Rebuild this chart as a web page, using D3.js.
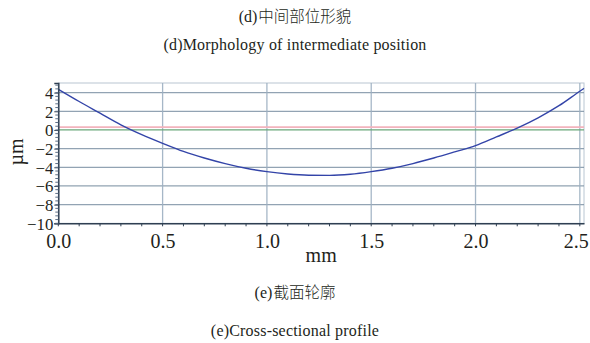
<!DOCTYPE html>
<html>
<head>
<meta charset="utf-8">
<script src="https://cdn.jsdelivr.net/npm/d3@7"></script>
<style>
  html, body { margin: 0; padding: 0; background: #fff; }
  svg { display: block; }
</style>
</head>
<body>
<svg id="chart" width="590" height="343"></svg>
<script>
// Cross-sectional profile: height (µm) along the measurement line (mm)
const positionsMm = [0.0, 0.1, 0.2, 0.3, 0.4, 0.5, 0.6, 0.7, 0.8, 0.9, 1.0, 1.1, 1.2, 1.3,
  1.4, 1.5, 1.6, 1.7, 1.8, 1.9, 2.0, 2.1, 2.2, 2.3, 2.4, 2.5, 2.52];
const heightsUm = [4.36, 3.05, 1.8, 0.55, -0.5, -1.43, -2.3, -3.0, -3.6, -4.1, -4.47, -4.72,
  -4.85, -4.87, -4.75, -4.47, -4.1, -3.6, -3.0, -2.35, -1.68, -0.75, 0.2, 1.3, 2.6, 4.15, 4.45];

const xTicks = [0.0, 0.5, 1.0, 1.5, 2.0, 2.5];
const yTicks = [4, 2, 0, -2, -4, -6, -8, -10];
const zeroLine = 0;        // reference line (green)
const upperLine = 0.3;     // mean line (pink)

const titleTop = "(d)中间部位形貌";
const titleTopEn = "(d)Morphology of intermediate position";
const captionCn = "(e)截面轮廓";
const captionEn = "(e)Cross-sectional profile";

const svg = d3.select("#chart");
const plot = { left: 58.3, right: 584, top: 83, bottom: 223.3 };

const x = d3.scaleLinear().domain([0, 2.52]).range([plot.left, plot.right]);
const y = d3.scaleLinear().domain([-10, 5.03]).range([plot.bottom, plot.top]);

const serif = "'Liberation Serif', 'Times New Roman', serif";
const cjk = "'Noto Sans CJK SC', sans-serif";
const ink = "#231f20";

// Titles above and captions below
function mixedText(yPos, parts, size) {
  const t = svg.append("text")
    .attr("x", 295).attr("y", yPos)
    .attr("text-anchor", "middle")
    .attr("fill", ink);
  t.append("tspan").attr("font-family", serif).attr("font-size", size).text(parts[0]);
  t.append("tspan").attr("font-family", cjk).attr("font-size", size - 0.5)
    .attr("font-weight", 300).attr("dx", 1).text(parts[1]);
}
function enText(yPos, str) {
  svg.append("text").attr("x", 295).attr("y", yPos).attr("text-anchor", "middle")
    .attr("font-family", serif).attr("font-size", 16).attr("letter-spacing", 0.2)
    .attr("fill", ink).text(str);
}
mixedText(22, [titleTop.slice(0, 3), titleTop.slice(3)], 16);
enText(50, titleTopEn);
mixedText(298, [captionCn.slice(0, 3), captionCn.slice(3)], 16);
enText(336, captionEn);

// Plot frame (top/right light)
svg.append("rect")
  .attr("x", plot.left).attr("y", plot.top)
  .attr("width", plot.right - plot.left).attr("height", plot.bottom - plot.top)
  .attr("fill", "none").attr("stroke", "#b9c6d2").attr("stroke-width", 1);

// Grid lines
const g = svg.append("g");
g.selectAll("line.hg").data(yTicks.filter(d => d !== 0 && d !== -10)).join("line")
  .attr("x1", plot.left).attr("x2", plot.right)
  .attr("y1", d => y(d)).attr("y2", d => y(d))
  .attr("stroke", "#7f93a6").attr("stroke-width", 1.3).attr("opacity", 0.85);
g.selectAll("line.vg").data(xTicks.filter(d => d > 0)).join("line")
  .attr("x1", d => x(d)).attr("x2", d => x(d))
  .attr("y1", plot.top).attr("y2", plot.bottom)
  .attr("stroke", "#9db0c2").attr("stroke-width", 1.3).attr("opacity", 0.9);

// Reference lines
g.append("line").attr("x1", plot.left).attr("x2", plot.right)
  .attr("y1", y(upperLine)).attr("y2", y(upperLine))
  .attr("stroke", "#f2b3bd").attr("stroke-width", 1.8);
g.append("line").attr("x1", plot.left).attr("x2", plot.right)
  .attr("y1", y(zeroLine)).attr("y2", y(zeroLine))
  .attr("stroke", "#6aa77a").attr("stroke-width", 1.2);

// Profile curve
const line = d3.line().x((d, i) => x(positionsMm[i])).y(d => y(d)).curve(d3.curveMonotoneX);
svg.append("path").datum(heightsUm)
  .attr("d", line)
  .attr("fill", "none").attr("stroke", "#3344a8").attr("stroke-width", 1.4);

// Axes
const xAxis = d3.axisBottom(x).tickValues(xTicks).tickFormat(d3.format(".1f")).tickSize(0).tickPadding(11);
const xa = svg.append("g").attr("transform", `translate(0,${plot.bottom})`).call(xAxis);
xa.select(".domain").attr("stroke", "#2f3f52").attr("stroke-width", 1.5);
xa.selectAll("text").attr("font-family", serif).attr("font-size", 20).attr("fill", ink);
// keep the last label inside the page edge
xa.selectAll(".tick").filter(d => d === 2.5).select("text").attr("dx", -4);

const xMinor = d3.range(0, 2.52, 0.1);
svg.append("g").selectAll("line").data(xMinor).join("line")
  .attr("x1", d => x(d)).attr("x2", d => x(d))
  .attr("y1", plot.bottom).attr("y2", plot.bottom + 3)
  .attr("stroke", "#2f3f52").attr("stroke-width", 1);

const yAxis = d3.axisLeft(y).tickValues(yTicks).tickFormat(d => d < 0 ? "\u2212" + Math.abs(d) : d)
  .tickSize(4).tickPadding(1);
const ya = svg.append("g").attr("transform", `translate(${plot.left},0)`).call(yAxis);
ya.select(".domain").attr("stroke", "#2f3f52").attr("stroke-width", 1.5);
ya.selectAll(".tick line").attr("stroke", "#2f3f52");
ya.selectAll("text").attr("font-family", serif).attr("font-size", 16.8).attr("fill", ink)
  .attr("dy", "0.34em");

const yMinor = d3.range(-10, 5.01, 0.4);
svg.append("g").selectAll("line").data(yMinor).join("line")
  .attr("x1", plot.left - 3).attr("x2", plot.left)
  .attr("y1", d => y(d)).attr("y2", d => y(d))
  .attr("stroke", "#5d7088").attr("stroke-width", 1);

// Axis titles
svg.append("text").attr("x", (plot.left + plot.right) / 2).attr("y", 262)
  .attr("text-anchor", "middle").attr("font-family", serif).attr("font-size", 20)
  .attr("fill", ink).text("mm");
svg.append("text").attr("transform", "translate(23,152) rotate(-90)")
  .attr("text-anchor", "middle").attr("font-family", serif).attr("font-size", 20)
  .attr("fill", ink).text("µm");
</script>
</body>
</html>
